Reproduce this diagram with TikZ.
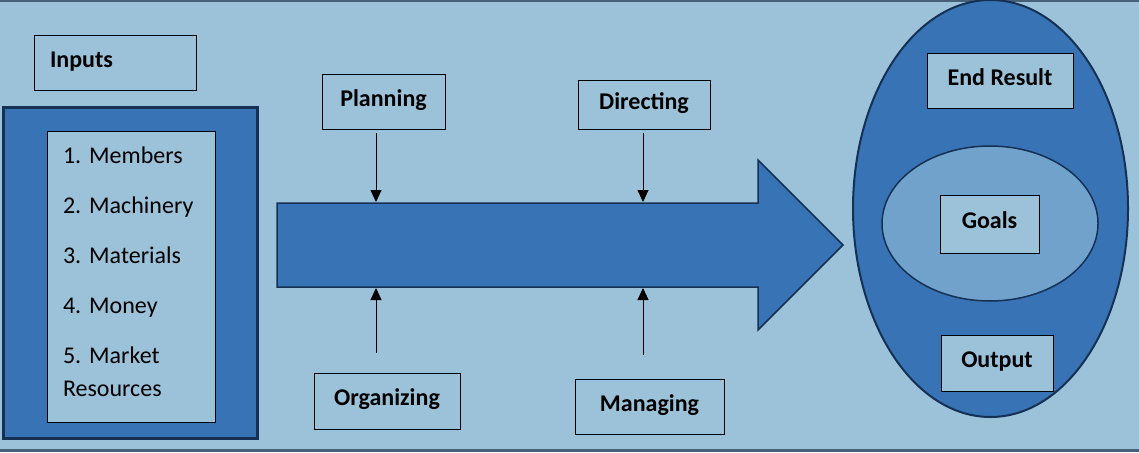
\documentclass[tikz,border=0pt]{standalone}
\usepackage{fontspec}
\setmainfont{Carlito}
\frenchspacing
\usetikzlibrary{arrows.meta,shapes.geometric}
\definecolor{bgblue}{RGB}{156,194,218}
\definecolor{midblue}{RGB}{56,116,181}
\definecolor{paleblue}{RGB}{112,162,204}
\definecolor{navy}{RGB}{22,48,84}
\definecolor{rim}{RGB}{70,96,122}
\begin{document}
\begin{tikzpicture}[x=1pt,y=-1pt,
    box/.style={draw=black,fill=bgblue,line width=0.9pt,inner sep=0pt,text height=17pt,text depth=8pt,font=\fontsize{24}{29}\selectfont\bfseries},
    listbox/.style={draw=black,fill=bgblue,line width=0.9pt,inner sep=0pt,text height=6.5pt,font=\fontsize{24}{33}\selectfont,align=left,text width=136pt},
    conn/.style={-{Triangle[length=12pt,width=11pt]},line width=0.9pt,draw=black}]

        \fill[bgblue] (0,0) rectangle (1139,452);
        \useasboundingbox (0,0) rectangle (1139,452);
        \draw[rim,line width=2pt] (0,1) -- (1139,1);
        \draw[rim,line width=3pt] (0,450.5) -- (1139,450.5);

        \node[box,minimum width=162pt,minimum height=55pt,text width=130pt,align=left] (inputs) at (115,62.5) {Inputs};

        \draw[navy,fill=midblue,line width=3pt] (3,107) rectangle (257,438);
        \node[listbox,minimum width=168pt,minimum height=291pt] (list) at (131,276.5) {1. Members\\[17pt] 2. Machinery\\[17pt] 3. Materials\\[17pt] 4. Money\\[17pt] 5. Market\\ Resources};

        \draw[navy,fill=midblue,line width=1.5pt] (277,203) -- (758,203) -- (758,160) -- (843,245) -- (758,330) -- (758,287) -- (277,287) -- cycle;
        \coordinate (pa) at (376,202);
        \coordinate (da) at (643,202);
        \coordinate (oa) at (376,288);
        \coordinate (ma) at (643,288);

        \node[box,minimum width=123pt,minimum height=55pt] (plan) at (383.5,101.5) {Planning};
        \node[box,minimum width=132pt,minimum height=49pt] (dir) at (644,104.5) {Directing};
        \node[box,minimum width=146pt,minimum height=56pt] (org) at (387,401) {Organizing};
        \node[box,minimum width=149pt,minimum height=55pt] (mng) at (649.5,406.5) {Managing};

        \draw[conn,shorten <=4pt] (plan.south -| pa) -- (pa);
        \draw[conn,shorten <=4pt] (dir.south -| da) -- (da);
        \draw[conn,shorten <=20pt] (org.north -| oa) -- (oa);
        \draw[conn,shorten <=24pt] (mng.north -| ma) -- (ma);

        \node[ellipse,draw=navy,fill=midblue,line width=2pt,inner sep=0pt,minimum width=275pt,minimum height=417pt] (result) at (990.5,208.5) {};
        \node[ellipse,draw=navy,fill=paleblue,line width=1.5pt,inner sep=0pt,minimum width=216pt,minimum height=155pt] (core) at (990,223.5) {};

        \node[box,minimum width=146pt,minimum height=55pt] (endres) at (1000,80.5) {End Result};
        \node[box,minimum width=99pt,minimum height=58pt] (goals) at (989.5,224) {Goals};
        \node[box,minimum width=112pt,minimum height=56pt] (output) at (997,363) {Output};

    \end{tikzpicture}
\end{document}
